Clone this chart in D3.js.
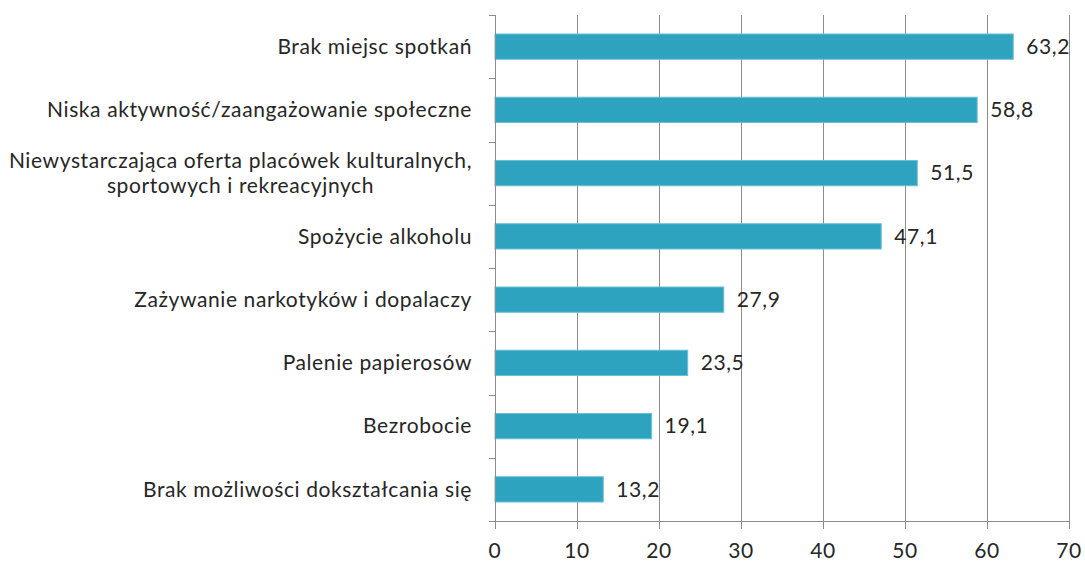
<!DOCTYPE html>
<html>
<head>
<meta charset="utf-8">
<script src="https://cdn.jsdelivr.net/npm/d3@7"></script>
<style>
  body { margin: 0; background: #fff; }
  text { font-family: Lato, "Open Sans", sans-serif; letter-spacing: 0.6px; }
</style>
</head>
<body>
<div id="chart"></div>
<script>
var width  = 1085;
var height = 561;

// data
var categories = [
  ["Brak miejsc spotkań "],
  ["Niska aktywność/zaangażowanie społeczne"],
  ["Niewystarczająca oferta placówek kulturalnych,", "sportowych i rekreacyjnych"],
  ["Spożycie alkoholu"],
  ["Zażywanie narkotyków i dopalaczy "],
  ["Palenie papierosów"],
  ["Bezrobocie"],
  ["Brak możliwości dokształcania się"]
];
var values    = [63.2, 58.8, 51.5, 47.1, 27.9, 23.5, 19.1, 13.2];
var xTicks    = [0, 10, 20, 30, 40, 50, 60, 70];

// plot area edges
var plotLeft = 495, plotRight = 1069, plotTop = 15, plotBottom = 521;
var fontSize = "21px";

var svg = d3.select("#chart").append("svg")
    .attr("width", width)
    .attr("height", height);

var x = d3.scaleLinear().domain([0, 70]).range([plotLeft, plotRight]);
var y = d3.scaleBand()
    .domain(d3.range(categories.length))
    .range([plotTop, plotBottom])
    .paddingInner(0.6)
    .paddingOuter(0.3);

// ------------- grid lines -----------------
svg.append("g").selectAll("line")
    .data(xTicks.slice(1))
    .enter()
  .append("line")
    .attr("x1", d => Math.round(x(d)) + 0.5).attr("x2", d => Math.round(x(d)) + 0.5)
    .attr("y1", plotTop).attr("y2", plotBottom + 8)
    .attr("stroke", "#8c8c8c")
    .attr("stroke-width", 1);

// ------------- bars -----------------
svg.append("g").selectAll("rect")
    .data(values)
    .enter()
  .append("rect")
    .attr("x", plotLeft)
    .attr("y", (d, i) => y(i))
    .attr("width", d => x(d) - plotLeft)
    .attr("height", y.bandwidth())
    .attr("fill", "#2ea3c0")
    .attr("stroke", "#6cc0d6")
    .attr("stroke-width", 1);

// value labels
svg.append("g").selectAll("text")
    .data(values)
    .enter()
  .append("text")
    .attr("x", d => x(d) + 13)
    .attr("y", (d, i) => y(i) + y.bandwidth() / 2)
    .attr("dy", "0.35em")
    .style("font-size", fontSize)
    .attr("fill", "#262626")
    .text(d => d.toFixed(1).replace(".", ","));

// ------------- axes -----------------
var yStep = (plotBottom - plotTop) / categories.length;
svg.append("line")
    .attr("x1", plotLeft + 0.5).attr("x2", plotLeft + 0.5)
    .attr("y1", plotTop).attr("y2", plotBottom)
    .attr("stroke", "#8c8c8c");
svg.append("g").selectAll("line")
    .data(d3.range(categories.length + 1))
    .enter()
  .append("line")
    .attr("x1", plotLeft - 6).attr("x2", plotLeft)
    .attr("y1", i => Math.round(plotTop + i * yStep) + 0.5)
    .attr("y2", i => Math.round(plotTop + i * yStep) + 0.5)
    .attr("stroke", "#8c8c8c");

svg.append("line")
    .attr("x1", plotLeft).attr("x2", plotRight)
    .attr("y1", plotBottom + 0.5).attr("y2", plotBottom + 0.5)
    .attr("stroke", "#8c8c8c");
svg.append("line")
    .attr("x1", plotLeft + 0.5).attr("x2", plotLeft + 0.5)
    .attr("y1", plotBottom).attr("y2", plotBottom + 8)
    .attr("stroke", "#8c8c8c");

svg.append("g").selectAll("text")
    .data(xTicks)
    .enter()
  .append("text")
    .attr("x", d => x(d))
    .attr("y", 558)
    .attr("text-anchor", "middle")
    .style("font-size", fontSize)
    .attr("fill", "#262626")
    .text(d => d);

// category labels
var labelRight = 472;
var catGroup = svg.append("g");
categories.forEach(function(lines, i) {
  var cy = y(i) + y.bandwidth() / 2;
  var t = catGroup.append("text")
      .style("font-size", fontSize)
      .attr("fill", "#262626");
  if (lines.length === 1) {
    t.attr("x", labelRight).attr("y", cy).attr("dy", "0.35em")
     .attr("text-anchor", "end").text(lines[0]);
  } else {
    var probe = catGroup.append("text").style("font-size", fontSize).text(lines[0]);
    var w = probe.node().getComputedTextLength();
    probe.remove();
    var cx = labelRight - w / 2;
    t.attr("text-anchor", "middle");
    lines.forEach(function(s, j) {
      t.append("tspan")
        .attr("x", cx)
        .attr("y", cy + (j - (lines.length - 1) / 2) * 25)
        .attr("dy", "0.35em")
        .text(s);
    });
  }
});
</script>
</body>
</html>
